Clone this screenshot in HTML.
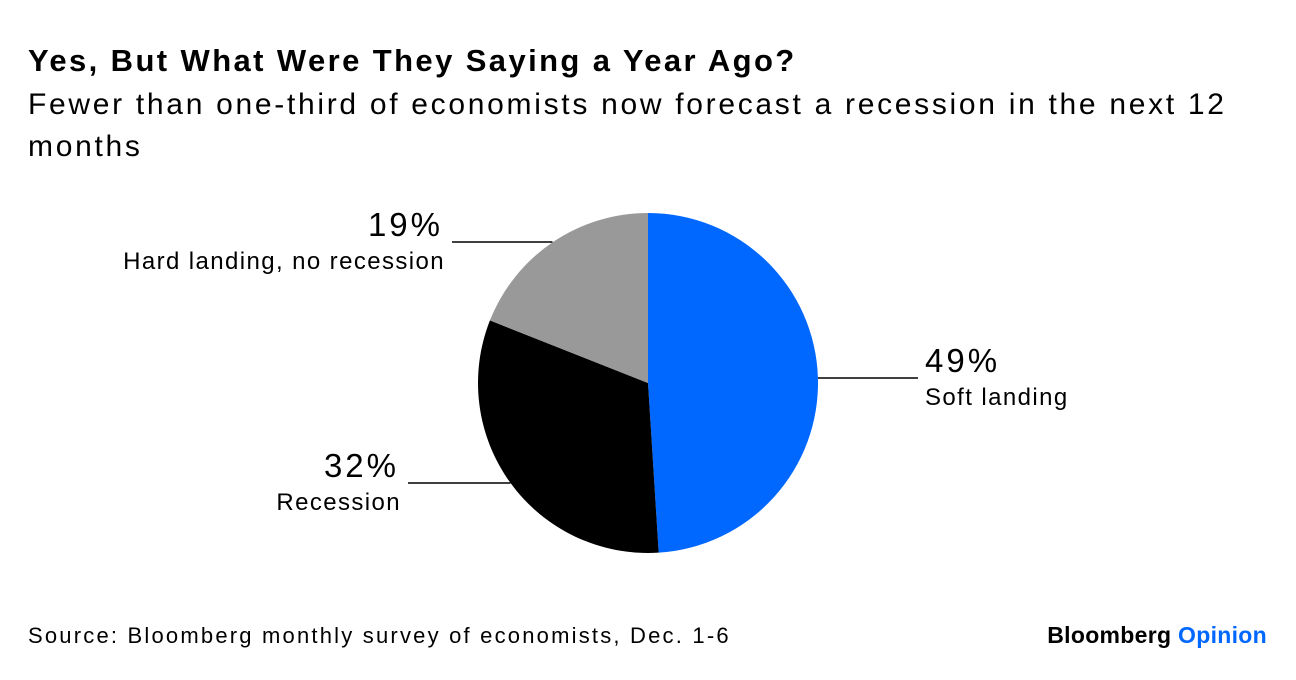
<!DOCTYPE html>
<html><head><meta charset="utf-8"><style>
body{margin:0;width:1296px;height:680px;background:#fff;font-family:"Liberation Sans",sans-serif;overflow:hidden;position:relative}
.t{position:absolute;white-space:nowrap;color:#000}
</style></head><body>
<div class="t" style="left:28px;top:43px;font-size:31px;font-weight:bold;letter-spacing:2.4px">Yes, But What Were They Saying a Year Ago?</div>
<div class="t" style="left:28px;top:84px;font-size:30px;line-height:42px;letter-spacing:2.7px">Fewer than one-third of economists now forecast a recession in the next 12<br>months</div>
<svg id="chart" width="1296" height="680" style="position:absolute;left:0;top:0"></svg>
<div class="t" style="left:28px;top:623px;font-size:22px;letter-spacing:2.2px">Source: Bloomberg monthly survey of economists, Dec. 1-6</div>
<div class="t" style="right:29px;top:622px;font-size:23px;font-weight:bold;letter-spacing:0.3px">Bloomberg <span style="color:#0068ff">Opinion</span></div>
<script>
const categories=["Soft landing","Recession","Hard landing, no recession"];
const values=[49,32,19];
const colors=["#0068ff","#000000","#999999"];
const cx=648,cy=383,r=170;
const svg=document.getElementById('chart');
const NS="http://www.w3.org/2000/svg";
const total=values.reduce((a,b)=>a+b,0);
function pt(f){const a=f*2*Math.PI;return [cx+r*Math.sin(a),cy-r*Math.cos(a)];}
let acc=0;
const mids=[];
values.forEach((v,i)=>{
  const f0=acc/total,f1=(acc+v)/total;acc+=v;
  const [x0,y0]=pt(f0),[x1,y1]=pt(f1);
  const p=document.createElementNS(NS,'path');
  p.setAttribute('d',`M${cx},${cy}L${x0},${y0}A${r},${r} 0 ${f1-f0>0.5?1:0} 1 ${x1},${y1}Z`);
  p.setAttribute('fill',colors[i]);
  
  
  svg.appendChild(p);
  mids.push((f0+f1)/2);
});
function txt(x,y,s,size,anchor,name,ls){
  const t=document.createElementNS(NS,'text');
  t.setAttribute('x',x);t.setAttribute('y',y);t.setAttribute('font-size',size);
  t.setAttribute('text-anchor',anchor);t.setAttribute('font-family','Liberation Sans, sans-serif');
  t.setAttribute('letter-spacing',ls);
  t.textContent=s;
  
  
  svg.appendChild(t);
}
function line(x1,y1,x2,y2,name){
  const l=document.createElementNS(NS,'line');
  l.setAttribute('x1',x1);l.setAttribute('y1',y1);l.setAttribute('x2',x2);l.setAttribute('y2',y2);
  l.setAttribute('stroke','#000');l.setAttribute('stroke-width','1.5');
  
  
  svg.appendChild(l);
}
values.forEach((v,i)=>{
  const [mx,my]=pt(mids[i]);
  const right=mx>cx;
  const ly=Math.round(my);
  if(right){
    line(mx,ly,918,ly,'leader-line-'+i);
    txt(925,ly-6,v+'%',33,'start','value-label-'+i,3);
    txt(925,ly+27,categories[i],24,'start','category-label-'+i,1.4);
  }else{
    const ex=i===2?452:408;
    line(mx,ly,ex,ly,'leader-line-'+i);
    txt(ex-9,ly-6,v+'%',33,'end','value-label-'+i,3);
    txt(ex-7,ly+27,categories[i],24,'end','category-label-'+i,1.4);
  }
});
</script>
</body></html>
